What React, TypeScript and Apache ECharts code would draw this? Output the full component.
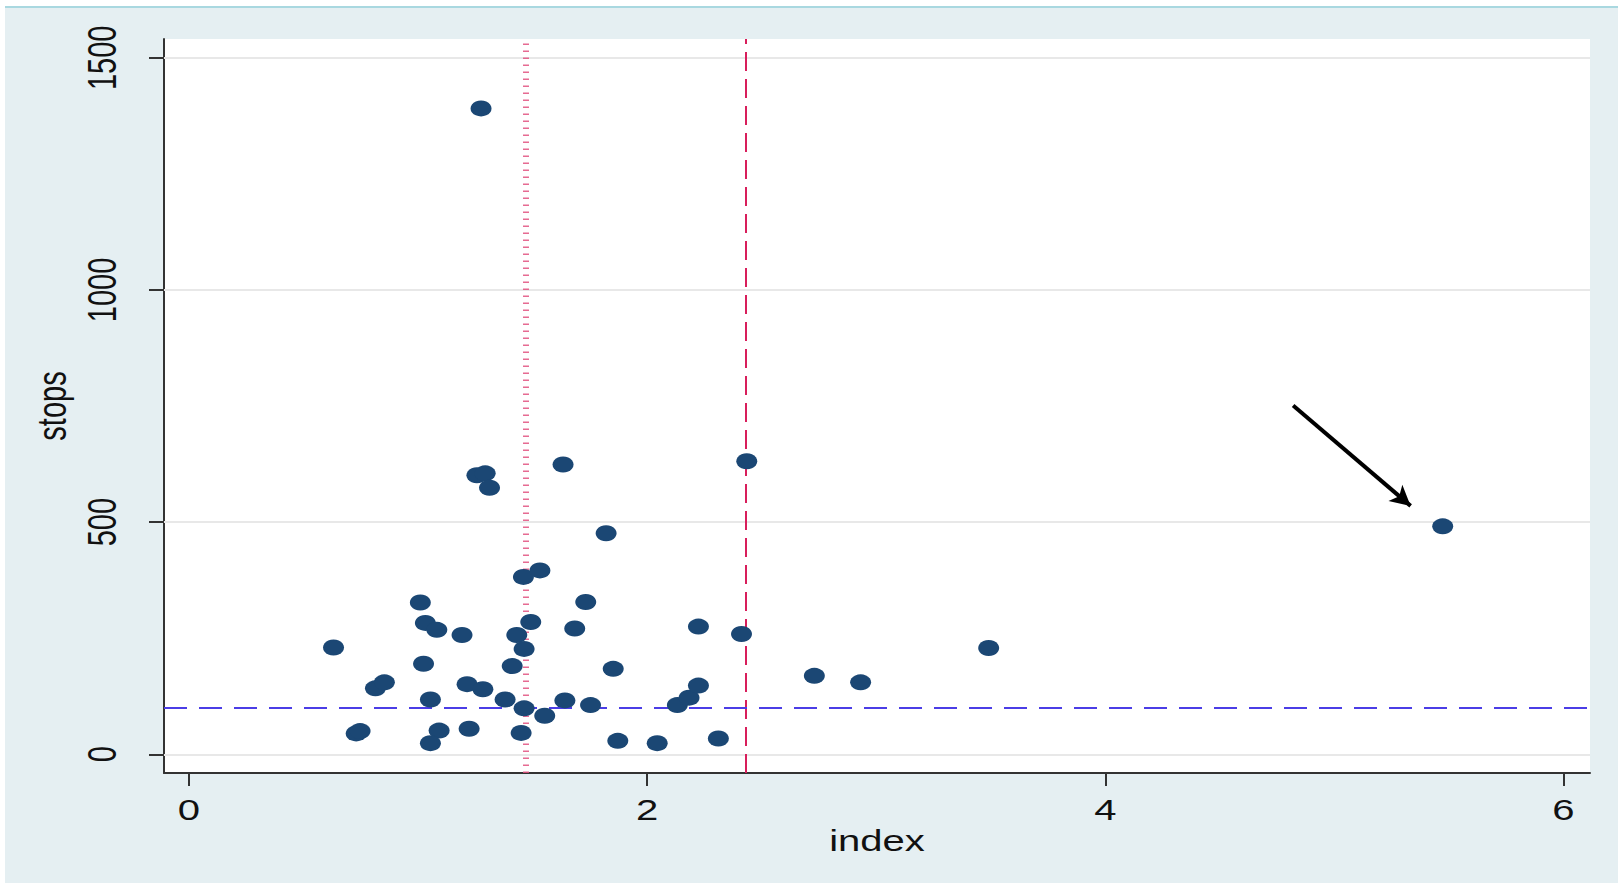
import React, { useEffect, useRef } from "react";
import * as echarts from "echarts";

// index (x) and stops (y) for each observation
const indexValues = [
  0.631, 0.73, 0.747, 0.814, 0.853, 1.01, 1.032, 1.082, 1.024, 1.054,
  1.092, 1.054, 1.192, 1.214, 1.283, 1.223, 1.257, 1.293, 1.312, 1.275,
  1.38, 1.411, 1.431, 1.463, 1.492, 1.46, 1.532, 1.463, 1.45, 1.553,
  1.633, 1.641, 1.684, 1.732, 1.753, 1.821, 1.852, 1.872, 2.044, 2.132,
  2.183, 2.224, 2.224, 2.311, 2.412, 2.435, 2.73, 2.932, 3.491, 5.473,
];
const stopsValues = [
  230, 45, 50, 142, 155, 327, 283, 268, 195, 118,
  51, 24, 257, 151, 140, 55, 601, 605, 574, 1391,
  118, 190, 257, 227, 285, 382, 396, 99, 46, 83,
  624, 116, 271, 328, 106, 476, 184, 29, 24, 106,
  122, 148, 275, 34, 259, 631, 169, 155, 229, 491,
];

const xTicks = [0, 2, 4, 6];
const yTicks = [0, 500, 1000, 1500];
const xTitle = "index";
const yTitle = "stops";

const xDottedRef = 1.465;
const xDashedRef = 2.433;
const yDashedRef = 100;

// annotation arrow (data coordinates)
const arrowStart = [4.82, 751];
const arrowEnd = [5.333, 535];

const X_MIN = -0.109;
const X_MAX = 6.116;
const Y_MIN = -40.3;
const Y_MAX = 1540.5;

const FONT = "'Liberation Sans', Arial, sans-serif";
const STRETCH = 1.38; // the original figure is stretched horizontally

export default function App() {
  const ref = useRef<HTMLDivElement>(null);

  useEffect(() => {
    if (!ref.current) return;
    const chart = echarts.init(ref.current, undefined, { renderer: "svg" });
    const points = indexValues.map((x, i) => [x, stopsValues[i]]);

    chart.setOption({
      animation: false,
      backgroundColor: "transparent",
      grid: {
        left: 164,
        top: 39,
        right: 28,
        bottom: 110,
        show: true,
        backgroundColor: "#ffffff",
        borderWidth: 0,
      },
      xAxis: {
        type: "value",
        min: X_MIN,
        max: X_MAX,
        axisLine: { show: true, onZero: false, lineStyle: { color: "#333", width: 2 } },
        axisTick: { show: true, length: 13, customValues: xTicks, lineStyle: { color: "#333", width: 2 } },
        axisLabel: { show: false },
        splitLine: { show: false },
      },
      yAxis: {
        type: "value",
        min: Y_MIN,
        max: Y_MAX,
        axisLine: { show: true, onZero: false, lineStyle: { color: "#333", width: 2 } },
        axisTick: { show: true, length: 15, customValues: yTicks, lineStyle: { color: "#333", width: 2 } },
        axisLabel: { show: false },
        splitLine: { show: false },
      },
      series: [
        {
          type: "scatter",
          data: [],
          z: 1,
          silent: true,
          markLine: {
            silent: true,
            symbol: ["none", "none"],
            label: { show: false },
            lineStyle: { color: "#e8e8e8", width: 2, type: "solid" },
            data: yTicks.map((v) => ({ yAxis: v })),
          },
        },
        {
          type: "scatter",
          data: [],
          z: 2,
          silent: true,
          markLine: {
            silent: true,
            symbol: ["none", "none"],
            label: { show: false },
            data: [
              {
                xAxis: xDottedRef,
                lineStyle: { color: "#e2517f", width: 6, type: [1.5, 5.5], opacity: 0.85 },
              },
              {
                xAxis: xDashedRef,
                lineStyle: { color: "#d81e5b", width: 2, type: [19, 8] },
              },
              {
                yAxis: yDashedRef,
                lineStyle: { color: "#4b3de6", width: 2, type: [23, 12] },
              },
            ],
          },
        },
        {
          type: "scatter",
          data: points,
          z: 5,
          symbol: "circle",
          symbolSize: [21, 16],
          itemStyle: { color: "#1b4774", opacity: 1 },
        },
        {
          type: "scatter",
          data: [],
          z: 6,
          silent: true,
          markLine: {
            silent: true,
            symbol: ["none", "arrow"],
            symbolSize: [16, 20],
            label: { show: false },
            lineStyle: { color: "#000", width: 4, type: "solid" },
            data: [[{ coord: arrowStart }, { coord: arrowEnd }]],
          },
        },
      ],
    });

    // Axis texts placed through the axes' own scales, stretched like the original
    const xAxisY = chart.convertToPixel({ yAxisIndex: 0 }, Y_MIN) as number;
    const yAxisX = chart.convertToPixel({ xAxisIndex: 0 }, X_MIN) as number;
    const xMid = ((chart.convertToPixel({ xAxisIndex: 0 }, X_MIN) as number) +
      (chart.convertToPixel({ xAxisIndex: 0 }, X_MAX) as number)) / 2;
    const yMid = ((chart.convertToPixel({ yAxisIndex: 0 }, Y_MIN) as number) +
      (chart.convertToPixel({ yAxisIndex: 0 }, Y_MAX) as number)) / 2;

    const textStyle = { fontFamily: FONT, fontSize: 29, fill: "#111", align: "center", verticalAlign: "middle" };
    const graphics: any[] = [];
    xTicks.forEach((v) => {
      graphics.push({
        type: "text",
        x: chart.convertToPixel({ xAxisIndex: 0 }, v) as number,
        y: xAxisY + 37,
        scaleX: STRETCH,
        silent: true,
        style: { ...textStyle, text: String(v) },
      });
    });
    yTicks.forEach((v) => {
      graphics.push({
        type: "text",
        x: yAxisX - 62,
        y: chart.convertToPixel({ yAxisIndex: 0 }, v) as number,
        rotation: Math.PI / 2,
        scaleY: STRETCH,
        silent: true,
        style: { ...textStyle, text: String(v) },
      });
    });
    graphics.push({
      type: "text",
      x: xMid,
      y: xAxisY + 68,
      scaleX: STRETCH,
      silent: true,
      style: { ...textStyle, text: xTitle },
    });
    graphics.push({
      type: "text",
      x: yAxisX - 112,
      y: yMid,
      rotation: Math.PI / 2,
      scaleY: STRETCH,
      silent: true,
      style: { ...textStyle, text: yTitle },
    });
    chart.setOption({ graphic: graphics });

    return () => chart.dispose();
  }, []);

  return (
    <div style={{ position: "fixed", left: 0, top: 0, width: 1618, height: 883, background: "#ffffff" }}>
      <div
        style={{
          position: "absolute",
          left: 5,
          top: 6,
          right: 0,
          bottom: 0,
          background: "#e5eff2",
          borderTop: "2px solid #a9d8e0",
        }}
      />
      <div ref={ref} style={{ position: "absolute", left: 0, top: 0, width: 1618, height: 883 }} />
    </div>
  );
}
